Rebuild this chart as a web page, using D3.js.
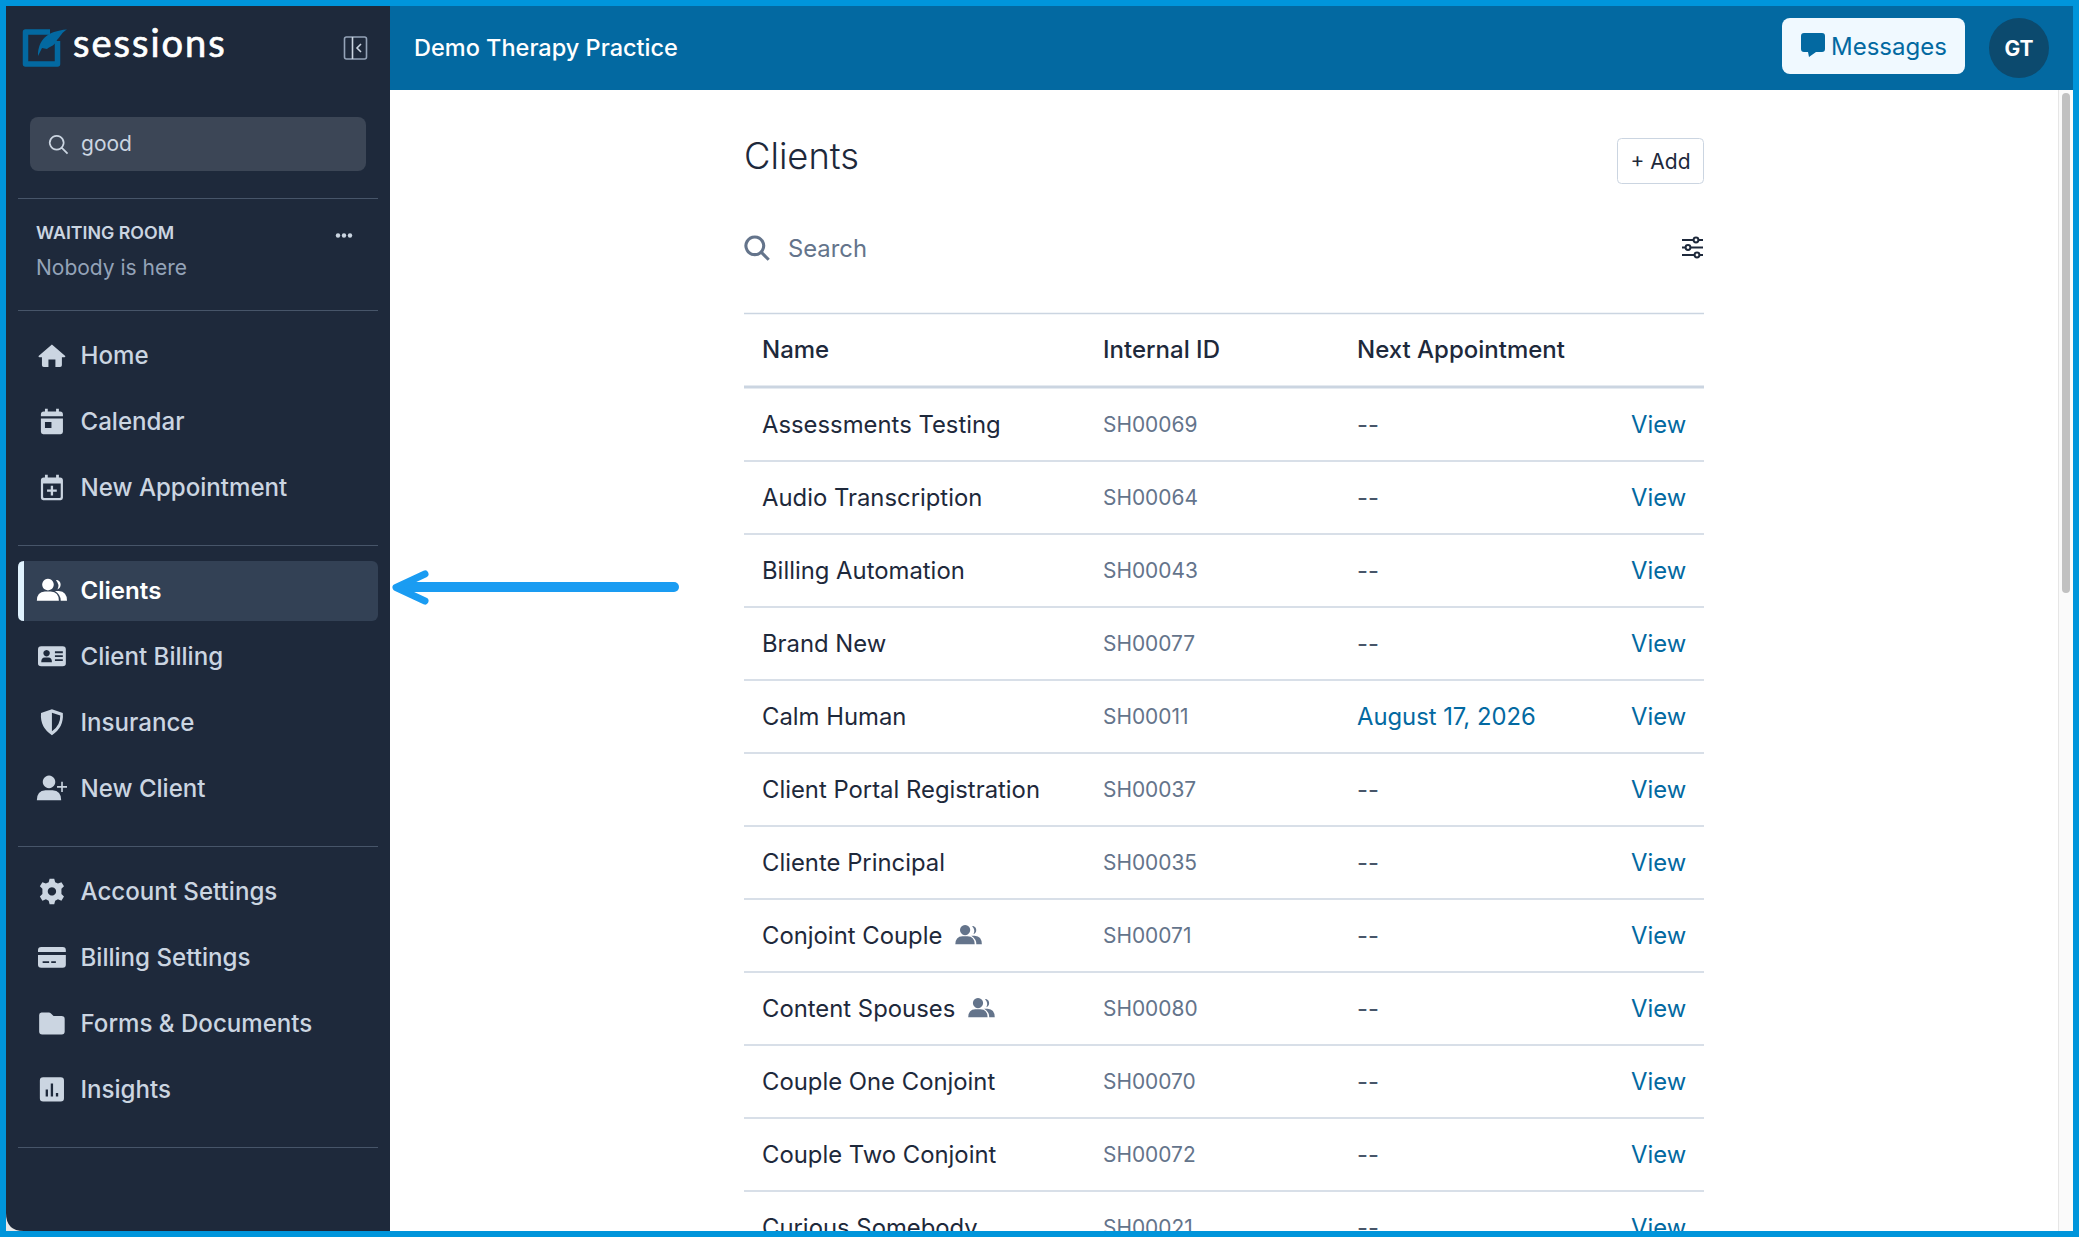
<!DOCTYPE html>
<html>
<head>
<meta charset="utf-8">
<title>Clients</title>
<script src="https://cdn.jsdelivr.net/npm/d3@7"></script>
<style>
  html, body { margin: 0; padding: 0; background: #fff; overflow: hidden; }
  svg { display: block; }
  text { font-family: "Inter", "Noto Sans", sans-serif; }
</style>
</head>
<body>
<div id="app"></div>
<script>
// table content
var clientNames = ["Assessments Testing", "Audio Transcription", "Billing Automation", "Brand New", "Calm Human",
    "Client Portal Registration", "Cliente Principal", "Conjoint Couple", "Content Spouses", "Couple One Conjoint",
    "Couple Two Conjoint", "Curious Somebody"];
var clientIds = ["SH00069", "SH00064", "SH00043", "SH00077", "SH00011", "SH00037", "SH00035", "SH00071", "SH00080",
    "SH00070", "SH00072", "SH00021"];
var nextAppointments = ["--", "--", "--", "--", "August 17, 2026", "--", "--", "--", "--", "--", "--", "--"];
var coupleClients = ["Conjoint Couple", "Content Spouses"];
var tableHeaders = ["Name", "Internal ID", "Next Appointment"];

// sidebar content
var navMain = ["Home", "Calendar", "New Appointment"];
var navClients = ["Clients", "Client Billing", "Insurance", "New Client"];
var navSettings = ["Account Settings", "Billing Settings", "Forms & Documents", "Insights"];

// icons, all in a 24 unit box
var icons = {
    "Home": "M12 2.5 L23.5 12.5 Q23.8 13.6 22.6 13.6 L20.6 13.6 L20.6 20.5 Q20.6 22 19 22 L15 22 L15 15.6 L9 15.6 L9 22 L5 22 Q3.4 22 3.4 20.5 L3.4 13.6 L1.4 13.6 Q0.2 13.6 0.5 12.5 Z",
    "Calendar": "M6 1 H8.4 V3.4 H15.6 V1 H18 V3.4 H19 Q21.5 3.4 21.5 6 V7.6 H2.5 V6 Q2.5 3.4 5 3.4 H6 Z M2.5 9.4 H21.5 V21 Q21.5 23 19.5 23 H4.5 Q2.5 23 2.5 21 Z M6 12.4 V17.6 H11.6 V12.4 Z",
    "New Appointment": "M6 1 H8.4 V3.4 H15.6 V1 H18 V3.4 H19 Q21.5 3.4 21.5 6 V21 Q21.5 23 19.5 23 H4.5 Q2.5 23 2.5 21 V6 Q2.5 3.4 5 3.4 H6 Z M4.4 8.6 V20.2 Q4.4 21.2 5.4 21.2 H18.6 Q19.6 21.2 19.6 20.2 V8.6 Z M11 10.6 H13 V13.8 H16.2 V15.8 H13 V19 H11 V15.8 H7.8 V13.8 H11 Z",
    "Clients": "M8.6 2.4 A5 5 0 1 1 8.59 2.4 Z M16.6 3.4 A4.4 4.4 0 0 1 16.8 11.6 A7 7 0 0 0 15.4 3.6 Z M-1 21.4 Q-1 13.6 6 13.4 H11 Q18 13.6 18 21.4 Z M14.6 13 H18 Q25 13.4 25 21.4 H19.6 Q19.8 16.4 14.6 13 Z",
    "Client Billing": "M2.8 3.6 H21.2 Q24 3.6 24 6.4 V18.6 Q24 21 21.2 21 H2.8 Q0 21 0 18.6 V6.4 Q0 3.6 2.8 3.6 Z M7.4 6.8 A2.8 2.8 0 1 0 7.41 6.8 Z M2.8 17.4 H12 Q12 13.4 9 13.4 H5.8 Q2.8 13.4 2.8 17.4 Z M14.6 8 V9.6 H21.4 V8 Z M14.6 11.4 V13 H21.4 V11.4 Z M14.6 14.8 V16.4 H21.4 V14.8 Z",
    "Insurance": "M12 1 L21.4 4.4 Q22.4 17 12 23.4 Q1.6 17 2.6 4.4 Z M12 4 V20 Q19.4 15 19.2 6.4 Z",
    "New Client": "M9.5 1.4 A5.4 5.4 0 1 1 9.49 1.4 Z M-1 22.6 Q-1 14.4 6.4 14 H12.6 Q20 14.4 20 22.6 Z M20 6.6 H21.4 V10.4 H25 V11.8 H21.4 V15.6 H20 V11.8 H16.4 V10.4 H20 Z",
    "Account Settings": "M10 1 H14 L14.8 4 L17.2 5.2 L20.2 4 L22.4 7.6 L20.2 9.8 V14.2 L22.4 16.4 L20.2 20 L17.2 18.8 L14.8 20 L14 23 H10 L9.2 20 L6.8 18.8 L3.8 20 L1.6 16.4 L3.8 14.2 V9.8 L1.6 7.6 L3.8 4 L6.8 5.2 L9.2 4 Z M12 8.4 A3.6 3.6 0 1 0 12.01 8.4 Z",
    "Billing Settings": "M2.8 3 H21.2 Q24 3 24 5.8 V7.4 H0 V5.8 Q0 3 2.8 3 Z M0 10 H24 V18.4 Q24 21 21.2 21 H2.8 Q0 21 0 18.4 Z M4 15.4 V16.8 H9.6 V15.4 Z M11.4 15.4 V16.8 H15.4 V15.4 Z",
    "Forms & Documents": "M3 2.6 H9.4 Q10.4 2.6 11.2 3.4 L13.4 5.6 H20.4 Q23 5.6 23 8.2 V19 Q23 21.6 20.4 21.6 H3.6 Q1 21.6 1 19 V4.8 Q1 2.6 3 2.6 Z",
    "Insights": "M4.4 1.6 H19.6 Q22.4 1.6 22.4 4.4 V19.6 Q22.4 22.4 19.6 22.4 H4.4 Q1.6 22.4 1.6 19.6 V4.4 Q1.6 1.6 4.4 1.6 Z M6.6 12 V18 H8.6 V12 Z M11 7 V18 H13 V7 Z M15.4 15 V18 H17.4 V15 Z"
};

var coupleIcon = icons["Clients"];
var searchIcon = "M10 2.5 A7.5 7.5 0 1 1 9.99 2.5 Z M15.6 15.6 L21.8 21.8";

var width = 2079, height = 1237;

var svg = d3.select("#app")
    .append("svg")
    .attr("width", width)
    .attr("height", height);

// window
svg.append("rect").attr("width", width).attr("height", height).attr("fill", "#ffffff");

// scrollbar
svg.append("rect").attr("x", 2058).attr("y", 90).attr("width", 15).attr("height", 1141).attr("fill", "#fafafa");
svg.append("line").attr("x1", 2058.5).attr("x2", 2058.5).attr("y1", 90).attr("y2", 1231).attr("stroke", "#e6e6e6").attr("stroke-width", 1);
svg.append("rect").attr("x", 2062).attr("y", 93).attr("width", 8).attr("height", 500).attr("rx", 4).attr("fill", "#c1c1c1");

// top bar
svg.append("rect").attr("x", 390).attr("y", 0).attr("width", width - 390).attr("height", 90).attr("fill", "#0369a1");
svg.append("text").attr("x", 414).attr("y", 56).attr("fill", "#ffffff")
    .style("font-size", "23.5px").style("font-weight", 500).text("Demo Therapy Practice");

svg.append("rect").attr("x", 1782).attr("y", 18).attr("width", 183).attr("height", 56).attr("rx", 8).attr("fill", "#f0f9ff");
svg.append("path").attr("fill", "#0369a1")
    .attr("d", "M1804 33 H1822 Q1825 33 1825 36 V49 Q1825 52 1822 52 H1816 L1809 57 L1808 52 H1804 Q1801 52 1801 49 V36 Q1801 33 1804 33 Z");
svg.append("text").attr("x", 1831).attr("y", 55).attr("fill", "#0369a1")
    .style("font-size", "24px").text("Messages");

svg.append("circle").attr("cx", 2019).attr("cy", 48).attr("r", 30).attr("fill", "#0c4a6e");
svg.append("text").attr("x", 2019).attr("y", 55.5).attr("fill", "#ffffff").attr("text-anchor", "middle")
    .style("font-size", "21px").style("font-weight", 700).text("GT");

// sidebar
var sidebar = svg.append("g");
sidebar.append("rect").attr("x", 0).attr("y", 1190).attr("width", 60).attr("height", 47).attr("fill", "#e9e9e9");
sidebar.append("path").attr("fill", "#1e293b")
    .attr("d", "M6 0 H390 V1231 H24 Q6 1231 6 1213 Z");

// logo
sidebar.append("path").attr("fill", "none").attr("stroke", "#0369a1").attr("stroke-width", 5.5).attr("stroke-linejoin", "round")
    .attr("d", "M50 32 H25.5 V64 H57.5 V41");
sidebar.append("path").attr("fill", "#0369a1")
    .attr("d", "M38 56 C38 40 47 31 67 29.5 C62 32 61 36 57 40 C55 46 50 46 47 49 L42 48 Q40 52 38 56 Z");
sidebar.append("text").attr("x", 73).attr("y", 57).attr("fill", "#ffffff").attr("stroke", "#ffffff").attr("stroke-width", 0.7)
    .style("font-family", "Lato").style("font-size", "38px").style("letter-spacing", "2px")
    .text("sessions");

// collapse button
sidebar.append("rect").attr("x", 344.5).attr("y", 37).attr("width", 22).attr("height", 22).attr("rx", 2)
    .attr("fill", "none").attr("stroke", "#94a3b8").attr("stroke-width", 1.6);
sidebar.append("path").attr("fill", "none").attr("stroke", "#cbd5e1").attr("stroke-width", 1.6)
    .attr("d", "M352.5 37 V59 M361 44 L357 48 L361 52");

// search box
sidebar.append("rect").attr("x", 30).attr("y", 117).attr("width", 336).attr("height", 54).attr("rx", 8).attr("fill", "#3c4656");
sidebar.append("path").attr("d", searchIcon).attr("fill", "none").attr("stroke", "#cbd5e1").attr("stroke-width", 1.9)
    .attr("transform", "translate(47.5,133.5) scale(0.92)");
sidebar.append("text").attr("x", 81).attr("y", 151).attr("fill", "#cbd5e1")
    .style("font-size", "21px").text("good");

// dividers
sidebar.selectAll(".divider")
    .data([198, 310, 545, 846, 1147])
    .enter().append("line")
    .attr("class", "divider")
    .attr("x1", 18).attr("x2", 378)
    .attr("y1", function (d) { return d + 0.5; })
    .attr("y2", function (d) { return d + 0.5; })
    .attr("stroke", "#475569").attr("stroke-width", 1);

// waiting room
sidebar.append("text").attr("x", 36).attr("y", 239).attr("fill", "#cbd5e1")
    .style("font-size", "17.8px").style("font-weight", 600).text("WAITING ROOM");
sidebar.selectAll(".dot")
    .data([338, 344, 350])
    .enter().append("circle")
    .attr("class", "dot")
    .attr("cx", function (d) { return d; }).attr("cy", 235.5).attr("r", 2.2).attr("fill", "#cbd5e1");
sidebar.append("text").attr("x", 36).attr("y", 275).attr("fill", "#94a3b8")
    .style("font-size", "21px").text("Nobody is here");

// selected item
sidebar.append("rect").attr("x", 18).attr("y", 561).attr("width", 360).attr("height", 60).attr("rx", 6).attr("fill", "#334155");
sidebar.append("path").attr("fill", "#e0f2fe")
    .attr("d", "M24 561 V621 Q18 621 18 615 V567 Q18 561 24 561 Z");

function drawNav(items, top) {
    var y = d3.scalePoint().domain(items).range([top, top + 66 * (items.length - 1)]);
    var g = sidebar.selectAll(null).data(items).enter().append("g");
    g.append("path")
        .attr("d", function (d) { return icons[d]; })
        .attr("fill", function (d) { return d === "Clients" ? "#ffffff" : "#cbd5e1"; })
        .attr("fill-rule", "evenodd")
        .attr("transform", function (d) { return "translate(38," + (y(d) - 14) + ") scale(1.16)"; });
    g.append("text")
        .attr("x", 80.5)
        .attr("y", function (d) { return y(d) + 8.5; })
        .attr("fill", function (d) { return d === "Clients" ? "#ffffff" : "#cbd5e1"; })
        .style("font-size", "24.1px")
        .style("font-weight", function (d) { return d === "Clients" ? 600 : 500; })
        .text(function (d) { return d; });
}
drawNav(navMain, 355.5);
drawNav(navClients, 590);
drawNav(navSettings, 891.5);

// arrow
svg.append("path").attr("fill", "none").attr("stroke", "#1a9cf2").attr("stroke-width", 10).attr("stroke-linecap", "round")
    .attr("d", "M674 587 H404");
svg.append("path").attr("fill", "none").attr("stroke", "#1a9cf2").attr("stroke-width", 7).attr("stroke-linecap", "round").attr("stroke-linejoin", "round")
    .attr("d", "M425 574 L396 587.5 L425 601");

// page heading
var left = 744, right = 1704;

svg.append("text").attr("x", left).attr("y", 169).attr("fill", "#1e293b")
    .style("font-size", "36.3px").style("font-weight", 300).text("Clients");

svg.append("rect").attr("x", 1617.5).attr("y", 138.5).attr("width", 86).attr("height", 45).attr("rx", 4)
    .attr("fill", "#ffffff").attr("stroke", "#cbd5e1").attr("stroke-width", 1);
svg.append("text").attr("x", 1660.5).attr("y", 168.5).attr("fill", "#1e293b").attr("text-anchor", "middle")
    .style("font-size", "21px").text("+ Add");

svg.append("path").attr("d", searchIcon).attr("fill", "none").attr("stroke", "#64748b").attr("stroke-width", 2.6)
    .attr("transform", "translate(743,234) scale(1.18)");
svg.append("text").attr("x", 788).attr("y", 257).attr("fill", "#64748b")
    .style("font-size", "23.8px").text("Search");

// filter icon
var filter = svg.append("g").attr("stroke", "#1e293b").attr("fill", "#ffffff").attr("stroke-width", 2);
filter.selectAll("line")
    .data([240, 247.5, 255])
    .enter().append("line")
    .attr("x1", 1682).attr("x2", 1703)
    .attr("y1", function (d) { return d; }).attr("y2", function (d) { return d; });
filter.selectAll("circle")
    .data([[1696, 240], [1688, 247.5], [1697, 255]])
    .enter().append("circle")
    .attr("cx", function (d) { return d[0]; }).attr("cy", function (d) { return d[1]; }).attr("r", 2.4);

// table
var rowY = d3.scaleBand()
    .domain(clientNames)
    .range([388, 388 + 73 * clientNames.length]);

var colX = d3.scaleOrdinal()
    .domain(["Name", "Internal ID", "Next Appointment", "View"])
    .range([762, 1103, 1357, 1631]);

var table = svg.append("g");

table.append("line").attr("x1", left).attr("x2", right).attr("y1", 313.5).attr("y2", 313.5).attr("stroke", "#cbd5e1").attr("stroke-width", 1.5);
table.append("line").attr("x1", left).attr("x2", right).attr("y1", 387).attr("y2", 387).attr("stroke", "#cbd5e1").attr("stroke-width", 3);

table.selectAll(".th")
    .data(tableHeaders)
    .enter().append("text")
    .attr("class", "th")
    .attr("x", function (d) { return colX(d); })
    .attr("y", 357.5)
    .attr("fill", "#1e293b")
    .style("font-size", "24px").style("font-weight", 500)
    .text(function (d) { return d; });

var rows = table.selectAll(".row")
    .data(clientNames)
    .enter().append("g")
    .attr("class", "row")
    .attr("transform", function (d) { return "translate(0," + rowY(d) + ")"; });

var mid = rowY.bandwidth() / 2;

rows.append("line")
    .attr("x1", left).attr("x2", right)
    .attr("y1", rowY.bandwidth()).attr("y2", rowY.bandwidth())
    .attr("stroke", "#cbd5e1").attr("stroke-width", 1.3);

var nameText = rows.append("text")
    .attr("x", colX("Name"))
    .attr("y", mid + 8.5)
    .attr("fill", "#1e293b")
    .style("font-size", "23.85px")
    .text(function (d) { return d; });

rows.filter(function (d) { return coupleClients.includes(d); })
    .append("path")
    .attr("d", coupleIcon)
    .attr("fill", "#64748b")
    .attr("fill-rule", "evenodd")
    .attr("transform", function () {
        var w = d3.select(this.parentNode).select("text").node().getComputedTextLength();
        return "translate(" + (colX("Name") + w + 14) + "," + (mid - 13) + ") scale(1.02)";
    });

rows.append("text")
    .attr("x", colX("Internal ID"))
    .attr("y", mid + 7.5)
    .attr("fill", "#64748b")
    .style("font-size", "20.9px")
    .text(function (d, i) { return clientIds[i]; });

rows.append("text")
    .attr("x", colX("Next Appointment"))
    .attr("y", mid + 8.5)
    .attr("fill", function (d, i) { return nextAppointments[i] === "--" ? "#475569" : "#0369a1"; })
    .style("font-size", "23.8px")
    .text(function (d, i) { return nextAppointments[i]; });

rows.append("text")
    .attr("x", colX("View"))
    .attr("y", mid + 8.5)
    .attr("fill", "#0369a1")
    .style("font-size", "23.8px")
    .text("View");

// outer frame goes on top so the last row gets cut off
var frame = svg.append("g").attr("fill", "#0095db");
frame.append("rect").attr("x", 0).attr("y", 0).attr("width", width).attr("height", 6);
frame.append("rect").attr("x", 0).attr("y", 0).attr("width", 6).attr("height", height);
frame.append("rect").attr("x", 2073).attr("y", 0).attr("width", 6).attr("height", height);
frame.append("rect").attr("x", 0).attr("y", 1231).attr("width", width).attr("height", 6);
</script>
</body>
</html>
